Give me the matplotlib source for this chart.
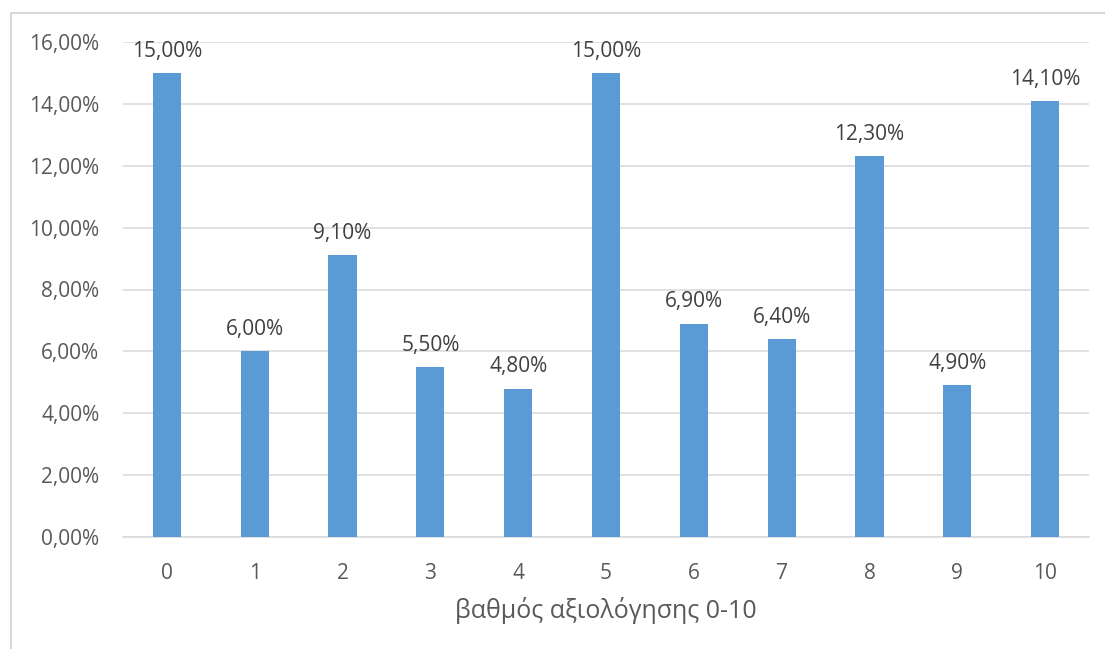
import matplotlib.pyplot as plt
from matplotlib.patches import Rectangle
from matplotlib.ticker import FuncFormatter

# grade categories and share of answers (%)
grades = ['0', '1', '2', '3', '4', '5', '6', '7', '8', '9', '10']
shares = [15.0, 6.0, 9.1, 5.5, 4.8, 15.0, 6.9, 6.4, 12.3, 4.9, 14.1]
xlabel = 'βαθμός αξιολόγησης 0-10'

bar_color = '#5B9BD5'
text_color = '#595959'
grid_color = '#D9D9D9'

plt.rcParams['font.family'] = ['Open Sans', 'DejaVu Sans']

fig = plt.figure(figsize=(11.05, 6.49), dpi=100)
ax = fig.add_axes([123 / 1105, 1 - 537 / 649, (1089 - 123) / 1105, (537 - 42) / 649])

# chart border like the Excel chart area
fig.patches.append(Rectangle((11 / 1105, -0.01), 1.02, 1 - 13 / 649 + 0.01,
                             transform=fig.transFigure, fill=False,
                             edgecolor=grid_color, linewidth=1.5))

x = range(len(grades))
ax.bar(x, shares, width=0.32, color=bar_color, zorder=3)

def pct(v):
    return f'{v:.2f}'.replace('.', ',') + '%'

for xi, v in zip(x, shares):
    ax.annotate(pct(v), (xi, v), xytext=(0, 8), textcoords='offset points',
                ha='center', va='bottom', fontsize=15, color='#404040')

ax.set_xlim(-0.5, len(grades) - 0.5)
ax.set_ylim(0, 16)
ax.set_yticks(range(0, 17, 2))
ax.yaxis.set_major_formatter(FuncFormatter(lambda v, _: pct(v)))
ax.set_xticks(list(x))
ax.set_xticklabels(grades)

ax.grid(axis='y', color=grid_color, linewidth=1.1, zorder=0)
for s in ['top', 'right', 'left']:
    ax.spines[s].set_visible(False)
ax.spines['bottom'].set_color(grid_color)
ax.spines['bottom'].set_linewidth(1.1)
ax.tick_params(axis='both', length=0, labelsize=15, labelcolor=text_color)
ax.tick_params(axis='y', pad=17)
ax.tick_params(axis='x', pad=19)

ax.set_xlabel(xlabel, fontsize=18, color=text_color, labelpad=9)

fig.savefig('out.png', dpi=100)
